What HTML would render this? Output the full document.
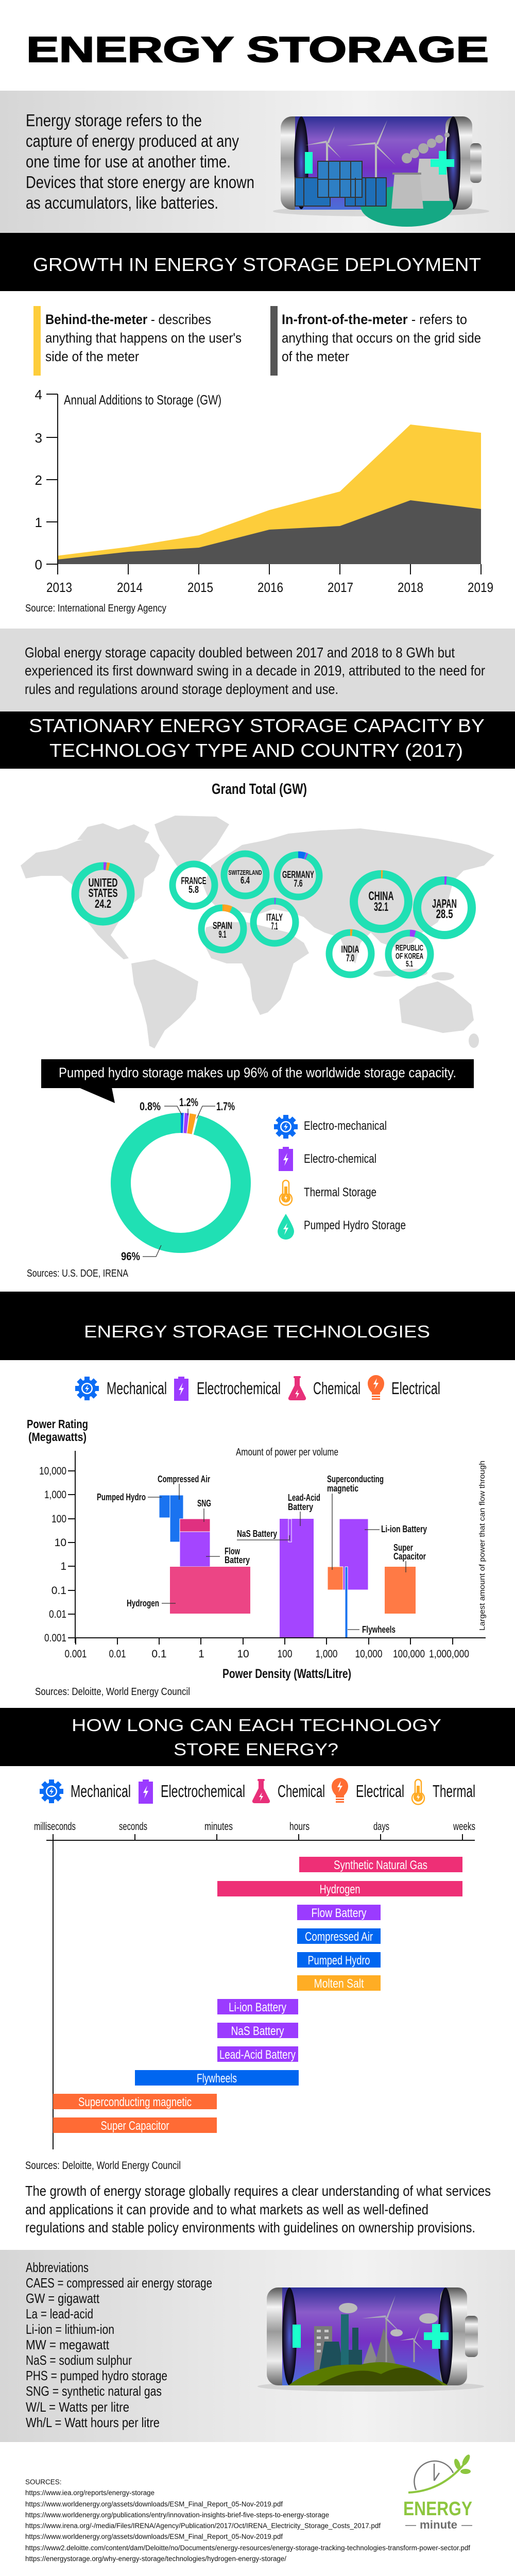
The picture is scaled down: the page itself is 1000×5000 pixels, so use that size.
<!DOCTYPE html>
<html><head><meta charset="utf-8"><style>
html,body{margin:0;padding:0;background:#fff;}
svg{display:block;}
text{font-family:"Liberation Sans Narrow","Liberation Sans",Arial,sans-serif;}
.w{font-family:"Liberation Sans",Arial,sans-serif;}
.b{font-weight:bold;}
</style></head><body>
<svg width="1000" height="5000" viewBox="0 0 1000 5000" xmlns="http://www.w3.org/2000/svg">
<defs>
<linearGradient id="band" x1="0" x2="1" y1="0" y2="0"><stop offset="0" stop-color="#d6d6d6"/><stop offset="0.7" stop-color="#f2f2f2"/><stop offset="1" stop-color="#e4e4e4"/></linearGradient>
<linearGradient id="silver" x1="0" x2="0" y1="0" y2="1"><stop offset="0" stop-color="#555"/><stop offset="0.2" stop-color="#f4f4f4"/><stop offset="0.45" stop-color="#9a9a9a"/><stop offset="0.75" stop-color="#eee"/><stop offset="1" stop-color="#666"/></linearGradient>
<linearGradient id="inside" x1="0" x2="0" y1="0" y2="1"><stop offset="0" stop-color="#2d2f95"/><stop offset="0.25" stop-color="#8a5cc9"/><stop offset="0.55" stop-color="#7630c4"/><stop offset="1" stop-color="#4a6fd8"/></linearGradient>
<radialGradient id="endcap"><stop offset="0" stop-color="#4a5ad0"/><stop offset="0.6" stop-color="#2a2250"/><stop offset="1" stop-color="#050510"/></radialGradient>
<g id="gear"><g fill="#0a6cf5"><circle r="17"/><rect x="-5" y="-23" width="10" height="8"/><rect x="-5" y="15" width="10" height="8"/><rect x="-23" y="-5" width="8" height="10"/><rect x="15" y="-5" width="8" height="10"/><rect x="-5" y="-23" width="10" height="8" transform="rotate(45)"/><rect x="-5" y="-23" width="10" height="8" transform="rotate(135)"/><rect x="-5" y="-23" width="10" height="8" transform="rotate(225)"/><rect x="-5" y="-23" width="10" height="8" transform="rotate(315)"/></g><circle r="11" fill="#fff"/><circle r="8.5" fill="#0a6cf5"/><path d="M2,-7 L-4,1 L0,1 L-2,7 L4,-1 L0,-1Z" fill="#fff"/></g>
<g id="batt"><rect x="-6" y="-24" width="12" height="5" fill="#9b3bff"/><rect x="-14" y="-20" width="28" height="43" fill="#9b3bff"/><path d="M3,-12 L-5,2 L0,2 L-3,13 L5,-2 L0,-2Z" fill="#fff"/></g>
<g id="flask"><rect x="-7" y="-24" width="14" height="4" rx="2" fill="#e8307a"/><path d="M-5,-21 L5,-21 L5,-6 L17,18 Q18,23 12,23 L-12,23 Q-18,23 -17,18 L-5,-6Z" fill="#e8307a"/><path d="M2,2 L-4,11 L0,11 L-2,19 L4,9 L0,9Z" fill="#fff"/></g>
<g id="bulb"><path d="M-16,-8 A16,16 0 1 1 16,-8 Q16,2 8,10 L8,14 L-8,14 L-8,10 Q-16,2 -16,-8Z" fill="#ff6d33"/><rect x="-8" y="16" width="16" height="3" fill="#ff6d33"/><rect x="-8" y="21" width="16" height="3" fill="#ff6d33"/><path d="M2,-18 L-5,-6 L0,-6 L-3,4 L5,-9 L0,-9Z" fill="#fff"/></g>
<g id="therm"><path d="M-6,-14 A6,6 0 0 1 6,-14 L6,6 A12,12 0 1 1 -6,6Z" fill="#fff" stroke="#ffab24" stroke-width="2.5"/><rect x="-3" y="-8" width="6" height="16" fill="#ffab24"/><circle cy="14" r="9" fill="#ffab24"/><path d="M1,8 L-3,15 L0,15 L-1,20 L3,13 L0,13Z" fill="#fff"/></g>
<g id="drop"><path d="M0,-24 Q16,2 16,10 A16,16 0 0 1 -16,10 Q-16,2 0,-24Z" fill="#20e0b4"/><path d="M3,-6 L-5,6 L0,6 L-3,17 L5,3 L0,3Z" fill="#fff"/></g>
</defs>

<!-- TITLE -->
<text x="500" y="120" text-anchor="middle" class="w b" font-size="70" textLength="898" lengthAdjust="spacingAndGlyphs" font-weight="900" stroke="#000" stroke-width="2">ENERGY STORAGE</text>

<!-- INTRO BAND -->
<rect x="0" y="176" width="1000" height="276" fill="url(#band)"/>
<g font-size="33" fill="#111">
<text x="50" y="245" textLength="342" lengthAdjust="spacingAndGlyphs">Energy storage refers to the</text>
<text x="50" y="285" textLength="414" lengthAdjust="spacingAndGlyphs">capture of energy produced at any</text>
<text x="50" y="325" textLength="398" lengthAdjust="spacingAndGlyphs">one time for use at another time.</text>
<text x="50" y="365" textLength="444" lengthAdjust="spacingAndGlyphs">Devices that store energy are known</text>
<text x="50" y="405" textLength="374" lengthAdjust="spacingAndGlyphs">as accumulators, like batteries.</text>
</g>
<!-- battery 1 -->
<ellipse cx="740" cy="410" rx="210" ry="10" fill="#bbb" opacity="0.5"/>
<rect x="545" y="226" width="50" height="181" rx="22" fill="url(#silver)"/>
<rect x="573" y="226" width="317" height="181" fill="url(#inside)"/>
<rect x="865" y="226" width="52" height="181" rx="18" fill="url(#silver)"/>
<rect x="913" y="278" width="22" height="77" rx="8" fill="url(#silver)"/>
<ellipse cx="585" cy="316" rx="14" ry="90" fill="url(#endcap)"/>
<ellipse cx="880" cy="316" rx="14" ry="90" fill="url(#endcap)"/>
<ellipse cx="790" cy="400" rx="90" ry="40" fill="#15a884"/>
<g stroke="#bbb" stroke-width="4" fill="none"><line x1="635" y1="277" x2="635" y2="340"/><line x1="730" y1="280" x2="730" y2="345"/></g>
<g fill="#bbb"><path d="M635,277 L650,245 L639,278Z"/><path d="M635,277 L593,282 L634,273Z"/><path d="M635,277 L662,307 L632,279Z"/><path d="M730,280 L752,233 L734,281Z"/><path d="M730,280 L673,283 L729,276Z"/><path d="M730,280 L768,320 L727,282Z"/></g>
<g fill="#aaa"><circle cx="790" cy="307" r="10"/><circle cx="805" cy="298" r="9"/><circle cx="822" cy="288" r="10"/><circle cx="838" cy="278" r="9"/><circle cx="853" cy="270" r="8"/><circle cx="868" cy="262" r="5"/></g>
<path d="M814,308 L866,308 L873,390 L806,390Z" fill="#c4c4c4"/><path d="M766,337 L815,337 L822,405 L760,405Z" fill="#bdbdbd"/><rect x="762" y="335" width="56" height="4" fill="#888"/>
<g stroke="#333" stroke-width="2"><rect x="573" y="345" width="68" height="55" fill="#1f6fb8"/><rect x="670" y="345" width="80" height="55" fill="#1f6fb8"/><rect x="617" y="313" width="86" height="70" fill="#2e7fc4"/>
<line x1="638" y1="313" x2="638" y2="383"/><line x1="660" y1="313" x2="660" y2="383"/><line x1="681" y1="313" x2="681" y2="383"/><line x1="617" y1="348" x2="703" y2="348"/><line x1="690" y1="345" x2="690" y2="400"/><line x1="710" y1="345" x2="710" y2="400"/><line x1="730" y1="345" x2="730" y2="400"/><line x1="590" y1="345" x2="590" y2="400"/></g>
<rect x="592" y="295" width="15" height="42" fill="#1bffcc"/>
<rect x="836" y="309" width="46" height="15" fill="#1bffcc"/><rect x="852" y="293" width="15" height="46" fill="#1bffcc"/>

<!-- HEADER 1 -->
<rect x="0" y="452" width="1000" height="113" fill="#000"/>
<text x="64" y="526" class="w" font-size="36" fill="#fff" textLength="870" lengthAdjust="spacingAndGlyphs">GROWTH IN ENERGY STORAGE DEPLOYMENT</text>

<!-- meters -->
<rect x="65" y="594" width="14" height="135" fill="#fdcd3b"/>
<rect x="525" y="594" width="14" height="135" fill="#555"/>
<g font-size="27" fill="#111">
<text x="88" y="629" textLength="322" lengthAdjust="spacingAndGlyphs"><tspan class="b">Behind-the-meter</tspan> - describes</text>
<text x="88" y="665" textLength="381" lengthAdjust="spacingAndGlyphs">anything that happens on the user's</text>
<text x="88" y="701" textLength="182" lengthAdjust="spacingAndGlyphs">side of the meter</text>
<text x="547" y="629" textLength="360" lengthAdjust="spacingAndGlyphs"><tspan class="b">In-front-of-the-meter</tspan> - refers to</text>
<text x="547" y="665" textLength="387" lengthAdjust="spacingAndGlyphs">anything that occurs on the grid side</text>
<text x="547" y="701" textLength="131" lengthAdjust="spacingAndGlyphs">of the meter</text>
</g>

<!-- area chart -->
<path d="M112,1078.6 L249,1061.6 L386,1039 L523,990 L660,954 L797,824 L934,840 L934,1095 L112,1095Z" fill="#fdcd3b"/>
<path d="M112,1086 L249,1071 L386,1063 L523,1028 L660,1021 L797,971 L934,988 L934,1095 L112,1095Z" fill="#525252"/>
<g stroke="#111" stroke-width="2"><line x1="112" y1="765" x2="112" y2="1115"/>
<line x1="90" y1="765" x2="112" y2="765"/><line x1="90" y1="849" x2="112" y2="849"/><line x1="90" y1="931" x2="112" y2="931"/><line x1="90" y1="1013" x2="112" y2="1013"/><line x1="90" y1="1095" x2="112" y2="1095"/>
<line x1="249" y1="1095" x2="249" y2="1115"/><line x1="386" y1="1095" x2="386" y2="1115"/><line x1="523" y1="1095" x2="523" y2="1115"/><line x1="660" y1="1095" x2="660" y2="1115"/><line x1="797" y1="1095" x2="797" y2="1115"/><line x1="934" y1="1095" x2="934" y2="1115"/></g>
<g font-size="26" fill="#111" text-anchor="end"><text x="82" y="775">4</text><text x="82" y="859">3</text><text x="82" y="941">2</text><text x="82" y="1023">1</text><text x="82" y="1105">0</text></g>
<g font-size="26" fill="#111" text-anchor="middle"><text x="115" y="1149" textLength="50" lengthAdjust="spacingAndGlyphs">2013</text><text x="252" y="1149" textLength="50" lengthAdjust="spacingAndGlyphs">2014</text><text x="389" y="1149" textLength="50" lengthAdjust="spacingAndGlyphs">2015</text><text x="525" y="1149" textLength="50" lengthAdjust="spacingAndGlyphs">2016</text><text x="661" y="1149" textLength="50" lengthAdjust="spacingAndGlyphs">2017</text><text x="797" y="1149" textLength="50" lengthAdjust="spacingAndGlyphs">2018</text><text x="933" y="1149" textLength="50" lengthAdjust="spacingAndGlyphs">2019</text></g>
<text x="124" y="785" font-size="26" fill="#111" textLength="306" lengthAdjust="spacingAndGlyphs">Annual Additions to Storage (GW)</text>
<text x="49" y="1187" font-size="20" fill="#111" textLength="274" lengthAdjust="spacingAndGlyphs">Source: International Energy Agency</text>

<rect x="0" y="1220" width="1000" height="161" fill="#dcdcdc"/>
<g font-size="28" fill="#111">
<text x="48" y="1276" textLength="835" lengthAdjust="spacingAndGlyphs">Global energy storage capacity doubled between 2017 and 2018 to 8 GWh but</text>
<text x="48" y="1311" textLength="894" lengthAdjust="spacingAndGlyphs">experienced its first downward swing in a decade in 2019, attributed to the need for</text>
<text x="48" y="1347" textLength="609" lengthAdjust="spacingAndGlyphs">rules and regulations around storage deployment and use.</text>
</g>

<!-- HEADER 2 -->
<rect x="0" y="1381" width="1000" height="111" fill="#000"/>
<text x="56" y="1421" class="w" font-size="36" fill="#fff" textLength="885" lengthAdjust="spacingAndGlyphs">STATIONARY ENERGY STORAGE CAPACITY BY</text>
<text x="96" y="1469" class="w" font-size="36" fill="#fff" textLength="803" lengthAdjust="spacingAndGlyphs">TECHNOLOGY TYPE AND COUNTRY (2017)</text>
<text x="411" y="1541" class="b" font-size="29" fill="#111" textLength="185" lengthAdjust="spacingAndGlyphs">Grand Total (GW)</text>

<!-- map -->
<g fill="#dcdcdc">
<path d="M40,1680 L70,1655 L110,1648 L150,1632 L200,1625 L250,1622 L290,1638 L310,1660 L300,1690 L280,1705 L275,1740 L250,1760 L230,1790 L215,1815 L235,1840 L250,1860 L240,1862 L215,1840 L190,1815 L170,1790 L160,1760 L150,1725 L120,1700 L80,1700 L50,1705Z"/>
<path d="M150,1630 L170,1605 L200,1598 L230,1610 L260,1600 L290,1615 L280,1635Z"/>
<path d="M300,1600 L340,1583 L420,1585 L445,1600 L420,1640 L380,1680 L350,1690 L330,1660 L310,1630Z"/>
<path d="M255,1870 L300,1862 L340,1880 L385,1905 L380,1940 L350,1975 L320,2000 L300,2035 L290,2030 L285,1990 L275,1950 L260,1910Z"/>
<path d="M395,1720 L410,1680 L440,1660 L470,1640 L520,1630 L560,1618 L620,1612 L700,1608 L780,1618 L850,1628 L910,1640 L960,1660 L940,1680 L900,1690 L880,1710 L870,1750 L850,1790 L820,1810 L800,1830 L770,1840 L740,1830 L720,1810 L700,1830 L690,1870 L675,1855 L660,1820 L630,1810 L610,1800 L590,1780 L560,1770 L530,1765 L500,1775 L470,1770 L440,1770 L420,1760 L405,1745Z"/>
<path d="M400,1800 L440,1790 L480,1790 L520,1800 L560,1810 L590,1830 L600,1850 L570,1870 L560,1900 L545,1940 L520,1965 L505,1970 L490,1940 L485,1900 L470,1870 L440,1870 L410,1860 L395,1830Z"/>
<path d="M775,1940 L810,1915 L850,1905 L880,1920 L915,1950 L920,1980 L900,2000 L860,2005 L820,1995 L780,1985Z"/>
<ellipse cx="750" cy="1890" rx="25" ry="6"/><ellipse cx="800" cy="1888" rx="30" ry="8"/><ellipse cx="860" cy="1895" rx="22" ry="8"/><ellipse cx="920" cy="2020" rx="10" ry="14"/>
</g>
<!-- rings -->
<g fill="none" stroke="#20e0b4">
<circle cx="200" cy="1735" r="54" stroke-width="15"/>
<circle cx="376" cy="1718" r="41" stroke-width="13"/>
<circle cx="476" cy="1698" r="41" stroke-width="13"/>
<circle cx="579" cy="1700" r="41" stroke-width="13"/>
<circle cx="432" cy="1803" r="41" stroke-width="13"/>
<circle cx="533" cy="1790" r="41" stroke-width="13"/>
<circle cx="740" cy="1750" r="53" stroke-width="16"/>
<circle cx="863" cy="1762" r="53" stroke-width="16"/>
<circle cx="680" cy="1851" r="41" stroke-width="13"/>
<circle cx="795" cy="1852" r="41" stroke-width="13"/>
</g>
<g fill="none">
<circle cx="200" cy="1735" r="54" stroke-width="15" stroke="#9b3bff" stroke-dasharray="5 400" stroke-dashoffset="-1" transform="rotate(-90 200 1735)"/>
<circle cx="200" cy="1735" r="54" stroke-width="15" stroke="#ffa21f" stroke-dasharray="5 400" stroke-dashoffset="-7" transform="rotate(-90 200 1735)"/>
<circle cx="579" cy="1700" r="41" stroke-width="13" stroke="#0a6cf5" stroke-dasharray="13 400" stroke-dashoffset="0" transform="rotate(-90 579 1700)"/>
<circle cx="579" cy="1700" r="41" stroke-width="13" stroke="#9b3bff" stroke-dasharray="3 400" stroke-dashoffset="-14" transform="rotate(-90 579 1700)"/>
<circle cx="432" cy="1803" r="41" stroke-width="13" stroke="#ffa21f" stroke-dasharray="17 400" stroke-dashoffset="0" transform="rotate(-90 432 1803)"/>
<circle cx="533" cy="1790" r="41" stroke-width="13" stroke="#9b3bff" stroke-dasharray="2 400" transform="rotate(-90 533 1790)"/>
<circle cx="740" cy="1750" r="53" stroke-width="16" stroke="#ffa21f" stroke-dasharray="3 400" transform="rotate(-90 740 1750)"/>
<circle cx="863" cy="1762" r="53" stroke-width="16" stroke="#9b3bff" stroke-dasharray="4 400" transform="rotate(-90 863 1762)"/>
<circle cx="680" cy="1851" r="41" stroke-width="13" stroke="#ffa21f" stroke-dasharray="4 400" transform="rotate(-90 680 1851)"/>
<circle cx="795" cy="1852" r="41" stroke-width="13" stroke="#9b3bff" stroke-dasharray="10 400" stroke-dashoffset="-1" transform="rotate(-90 795 1852)"/>
</g>
<g class="b" fill="#111" text-anchor="middle">
<text x="200" y="1721" font-size="23" textLength="57" lengthAdjust="spacingAndGlyphs">UNITED</text><text x="200" y="1741" font-size="23" textLength="57" lengthAdjust="spacingAndGlyphs">STATES</text><text x="200" y="1762" font-size="23" textLength="32" lengthAdjust="spacingAndGlyphs">24.2</text>
<text x="376" y="1716" font-size="19" textLength="49" lengthAdjust="spacingAndGlyphs">FRANCE</text><text x="376" y="1733" font-size="19" textLength="20" lengthAdjust="spacingAndGlyphs">5.8</text>
<text x="476" y="1698" font-size="13" textLength="65" lengthAdjust="spacingAndGlyphs">SWITZERLAND</text><text x="476" y="1715" font-size="19" textLength="18" lengthAdjust="spacingAndGlyphs">6.4</text>
<text x="579" y="1704" font-size="19" textLength="62" lengthAdjust="spacingAndGlyphs">GERMANY</text><text x="579" y="1721" font-size="19" textLength="17" lengthAdjust="spacingAndGlyphs">7.6</text>
<text x="432" y="1803" font-size="19" textLength="38" lengthAdjust="spacingAndGlyphs">SPAIN</text><text x="432" y="1820" font-size="19" textLength="15" lengthAdjust="spacingAndGlyphs">9.1</text>
<text x="533" y="1787" font-size="19" textLength="32" lengthAdjust="spacingAndGlyphs">ITALY</text><text x="533" y="1804" font-size="19" textLength="13" lengthAdjust="spacingAndGlyphs">7.1</text>
<text x="740" y="1747" font-size="24" textLength="49" lengthAdjust="spacingAndGlyphs">CHINA</text><text x="740" y="1768" font-size="24" textLength="28" lengthAdjust="spacingAndGlyphs">32.1</text>
<text x="863" y="1762" font-size="24" textLength="48" lengthAdjust="spacingAndGlyphs">JAPAN</text><text x="863" y="1782" font-size="24" textLength="33" lengthAdjust="spacingAndGlyphs">28.5</text>
<text x="680" y="1849" font-size="19" textLength="35" lengthAdjust="spacingAndGlyphs">INDIA</text><text x="680" y="1866" font-size="19" textLength="16" lengthAdjust="spacingAndGlyphs">7.0</text>
<text x="795" y="1845" font-size="16" textLength="54" lengthAdjust="spacingAndGlyphs">REPUBLIC</text><text x="795" y="1861" font-size="16" textLength="54" lengthAdjust="spacingAndGlyphs">OF KOREA</text><text x="795" y="1876" font-size="16" textLength="14" lengthAdjust="spacingAndGlyphs">5.1</text>
</g>

<!-- pill -->
<rect x="80" y="2056" width="840" height="56" fill="#000"/>
<path d="M153,2111 L217,2111 L223,2141Z" fill="#000"/>
<text x="114" y="2091" font-size="27" fill="#fff" textLength="772" lengthAdjust="spacingAndGlyphs">Pumped hydro storage makes up 96% of the worldwide storage capacity.</text>

<!-- donut -->
<circle cx="351" cy="2296" r="116.5" fill="none" stroke="#20e0b4" stroke-width="39"/>
<g fill="none" stroke-width="39" transform="rotate(-90 351 2296)">
<circle cx="351" cy="2296" r="116.5" stroke="#fff" stroke-dasharray="30 800"/>
<circle cx="351" cy="2296" r="116.5" stroke="#0a6cf5" stroke-dasharray="5 800" stroke-dashoffset="0"/>
<circle cx="351" cy="2296" r="116.5" stroke="#9b3bff" stroke-dasharray="7 800" stroke-dashoffset="-6.5"/>
<circle cx="351" cy="2296" r="116.5" stroke="#ffa21f" stroke-dasharray="11 800" stroke-dashoffset="-15"/>
</g>
<g stroke="#333" stroke-width="1.2" fill="none">
<path d="M319,2147 L344,2147 L353,2164"/><path d="M365,2152 L365,2165"/><path d="M418,2147 L393,2147 L382,2171"/><path d="M277,2439 L303,2439 L313,2417"/>
</g>
<g class="b" font-size="22" fill="#111"><text x="271" y="2155" textLength="41" lengthAdjust="spacingAndGlyphs">0.8%</text><text x="348" y="2147" textLength="37" lengthAdjust="spacingAndGlyphs">1.2%</text><text x="420" y="2155" textLength="36" lengthAdjust="spacingAndGlyphs">1.7%</text><text x="235" y="2446" textLength="37" lengthAdjust="spacingAndGlyphs">96%</text></g>
<use href="#gear" x="555" y="2187"/><use href="#batt" x="555" y="2250"/><use href="#therm" x="555" y="2311"/><use href="#drop" x="555" y="2380"/>
<g font-size="24" fill="#111">
<text x="590" y="2193" textLength="161" lengthAdjust="spacingAndGlyphs">Electro-mechanical</text>
<text x="590" y="2257" textLength="141" lengthAdjust="spacingAndGlyphs">Electro-chemical</text>
<text x="590" y="2322" textLength="141" lengthAdjust="spacingAndGlyphs">Thermal Storage</text>
<text x="590" y="2386" textLength="198" lengthAdjust="spacingAndGlyphs">Pumped Hydro Storage</text>
</g>
<text x="52" y="2478" font-size="20" fill="#111" textLength="197" lengthAdjust="spacingAndGlyphs">Sources: U.S. DOE, IRENA</text>

<!-- HEADER 3 -->
<rect x="0" y="2507" width="1000" height="133" fill="#000"/>
<text x="163" y="2596" class="w" font-size="33" fill="#fff" textLength="672" lengthAdjust="spacingAndGlyphs">ENERGY STORAGE TECHNOLOGIES</text>
<use href="#gear" x="169" y="2695"/><use href="#batt" x="352" y="2696"/><use href="#flask" x="577" y="2695"/><use href="#bulb" x="730" y="2693"/>
<g font-size="33" fill="#111">
<text x="207" y="2706" textLength="117" lengthAdjust="spacingAndGlyphs">Mechanical</text>
<text x="382" y="2706" textLength="163" lengthAdjust="spacingAndGlyphs">Electrochemical</text>
<text x="608" y="2706" textLength="92" lengthAdjust="spacingAndGlyphs">Chemical</text>
<text x="760" y="2706" textLength="95" lengthAdjust="spacingAndGlyphs">Electrical</text>
</g>
<g class="b" font-size="23" fill="#111"><text x="52" y="2772" textLength="119" lengthAdjust="spacingAndGlyphs">Power Rating</text><text x="55" y="2797" textLength="113" lengthAdjust="spacingAndGlyphs">(Megawatts)</text></g>
<text x="458" y="2825" font-size="20" fill="#111" textLength="199" lengthAdjust="spacingAndGlyphs">Amount of power per volume</text>

<!-- tech chart bars -->
<rect x="309" y="2902" width="21" height="44" fill="#1a73f0" stroke="#fff" stroke-width="1"/>
<rect x="330" y="2902" width="26" height="91" fill="#1a73f0" stroke="#fff" stroke-width="1"/>
<rect x="349" y="2973" width="59" height="68" fill="#a445ff" stroke="#fff" stroke-width="1"/>
<rect x="349" y="2948" width="59" height="25" fill="#e03080" stroke="#fff" stroke-width="1"/>
<rect x="330" y="3041" width="156" height="91" fill="#ec4585"/>
<rect x="543" y="2948" width="66" height="231" fill="#a445ff"/>
<rect x="560" y="2948" width="6" height="45" fill="#a445ff" stroke="#fff" stroke-width="1"/>
<rect x="659" y="2948" width="56" height="138" fill="#a445ff" stroke="#fff" stroke-width="1"/>
<rect x="636" y="3041" width="30" height="45" fill="#ff7a45" stroke="#fff" stroke-width="1"/>
<rect x="670" y="3041" width="5" height="138" fill="#1a73f0" stroke="#fff" stroke-width="1"/>
<rect x="747" y="3041" width="60" height="91" fill="#ff7a45"/>
<!-- axes -->
<g stroke="#111" stroke-width="2"><line x1="146" y1="2816" x2="146" y2="3189"/><line x1="146" y1="3179" x2="943" y2="3179"/>
<line x1="132" y1="2855" x2="146" y2="2855"/><line x1="132" y1="2901" x2="146" y2="2901"/><line x1="132" y1="2948" x2="146" y2="2948"/><line x1="132" y1="2994" x2="146" y2="2994"/><line x1="132" y1="3040" x2="146" y2="3040"/><line x1="132" y1="3087" x2="146" y2="3087"/><line x1="132" y1="3133" x2="146" y2="3133"/><line x1="132" y1="3179" x2="146" y2="3179"/>
<line x1="147" y1="3179" x2="147" y2="3192"/><line x1="228" y1="3179" x2="228" y2="3192"/><line x1="309" y1="3179" x2="309" y2="3192"/><line x1="390" y1="3179" x2="390" y2="3192"/><line x1="472" y1="3179" x2="472" y2="3192"/><line x1="553" y1="3179" x2="553" y2="3192"/><line x1="634" y1="3179" x2="634" y2="3192"/><line x1="716" y1="3179" x2="716" y2="3192"/><line x1="797" y1="3179" x2="797" y2="3192"/><line x1="879" y1="3179" x2="879" y2="3192"/></g>
<g font-size="21" fill="#111" text-anchor="end"><text x="129" y="2862" textLength="53" lengthAdjust="spacingAndGlyphs">10,000</text><text x="129" y="2908" textLength="43" lengthAdjust="spacingAndGlyphs">1,000</text><text x="129" y="2955" textLength="29" lengthAdjust="spacingAndGlyphs">100</text><text x="129" y="3001">10</text><text x="129" y="3047">1</text><text x="129" y="3094">0.1</text><text x="129" y="3140" textLength="34" lengthAdjust="spacingAndGlyphs">0.01</text><text x="129" y="3186" textLength="43" lengthAdjust="spacingAndGlyphs">0.001</text></g>
<g font-size="21" fill="#111" text-anchor="middle"><text x="147" y="3217" textLength="43" lengthAdjust="spacingAndGlyphs">0.001</text><text x="228" y="3217" textLength="33" lengthAdjust="spacingAndGlyphs">0.01</text><text x="309" y="3217">0.1</text><text x="391" y="3217">1</text><text x="472" y="3217">10</text><text x="553" y="3217" textLength="29" lengthAdjust="spacingAndGlyphs">100</text><text x="634" y="3217" textLength="43" lengthAdjust="spacingAndGlyphs">1,000</text><text x="716" y="3217" textLength="53" lengthAdjust="spacingAndGlyphs">10,000</text><text x="794" y="3217" textLength="62" lengthAdjust="spacingAndGlyphs">100,000</text><text x="872" y="3217" textLength="78" lengthAdjust="spacingAndGlyphs">1,000,000</text></g>
<!-- leaders -->
<g stroke="#333" stroke-width="1.3" fill="none">
<path d="M348,2880 L348,2911"/><path d="M287,2906 L314,2906"/><path d="M396,2928 L396,2954"/><path d="M400,3021 L427,3021"/><path d="M583,2934 L583,2962"/><path d="M645,2899 L645,3047"/><path d="M460,2989 L562,2989 L562,2980"/><path d="M708,2969 L737,2969"/><path d="M788,3030 L788,3052"/><path d="M314,3112 L341,3112"/><path d="M675,3163 L698,3163"/>
</g>
<g class="b" font-size="18" fill="#111">
<text x="306" y="2877" textLength="102" lengthAdjust="spacingAndGlyphs">Compressed Air</text>
<text x="188" y="2912" textLength="95" lengthAdjust="spacingAndGlyphs">Pumped Hydro</text>
<text x="383" y="2924" textLength="27" lengthAdjust="spacingAndGlyphs">SNG</text>
<text x="436" y="3017" textLength="30" lengthAdjust="spacingAndGlyphs">Flow</text><text x="436" y="3034" textLength="49" lengthAdjust="spacingAndGlyphs">Battery</text>
<text x="559" y="2913" textLength="63" lengthAdjust="spacingAndGlyphs">Lead-Acid</text><text x="559" y="2931" textLength="49" lengthAdjust="spacingAndGlyphs">Battery</text>
<text x="635" y="2877" textLength="110" lengthAdjust="spacingAndGlyphs">Superconducting</text><text x="635" y="2895" textLength="61" lengthAdjust="spacingAndGlyphs">magnetic</text>
<text x="460" y="2983" textLength="78" lengthAdjust="spacingAndGlyphs">NaS Battery</text>
<text x="740" y="2974" textLength="89" lengthAdjust="spacingAndGlyphs">Li-ion Battery</text>
<text x="764" y="3010" textLength="38" lengthAdjust="spacingAndGlyphs">Super</text><text x="764" y="3027" textLength="63" lengthAdjust="spacingAndGlyphs">Capacitor</text>
<text x="246" y="3118" textLength="63" lengthAdjust="spacingAndGlyphs">Hydrogen</text>
<text x="703" y="3169" textLength="65" lengthAdjust="spacingAndGlyphs">Flywheels</text>
</g>
<text transform="translate(941,3165) rotate(-90)" class="w" font-size="15" fill="#111" textLength="330" lengthAdjust="spacingAndGlyphs">Largest amount of power that can flow through</text>
<text x="432" y="3257" class="b" font-size="25" fill="#111" textLength="250" lengthAdjust="spacingAndGlyphs">Power Density (Watts/Litre)</text>
<text x="68" y="3290" font-size="20" fill="#111" textLength="301" lengthAdjust="spacingAndGlyphs">Sources: Deloitte, World Energy Council</text>

<!-- HEADER 4 -->
<rect x="0" y="3315" width="1000" height="113" fill="#000"/>
<text x="139" y="3360" class="w" font-size="33" fill="#fff" textLength="718" lengthAdjust="spacingAndGlyphs">HOW LONG CAN EACH TECHNOLOGY</text>
<text x="337" y="3407" class="w" font-size="33" fill="#fff" textLength="320" lengthAdjust="spacingAndGlyphs">STORE ENERGY?</text>
<use href="#gear" x="100" y="3477"/><use href="#batt" x="283" y="3478"/><use href="#flask" x="507" y="3477"/><use href="#bulb" x="660" y="3475"/><use href="#therm" x="812" y="3474"/>
<g font-size="33" fill="#111">
<text x="137" y="3488" textLength="117" lengthAdjust="spacingAndGlyphs">Mechanical</text>
<text x="312" y="3488" textLength="164" lengthAdjust="spacingAndGlyphs">Electrochemical</text>
<text x="539" y="3488" textLength="92" lengthAdjust="spacingAndGlyphs">Chemical</text>
<text x="691" y="3488" textLength="94" lengthAdjust="spacingAndGlyphs">Electrical</text>
<text x="840" y="3488" textLength="83" lengthAdjust="spacingAndGlyphs">Thermal</text>
</g>
<g font-size="21" fill="#111">
<text x="66" y="3552" textLength="81" lengthAdjust="spacingAndGlyphs">milliseconds</text>
<text x="231" y="3552" textLength="55" lengthAdjust="spacingAndGlyphs">seconds</text>
<text x="397" y="3552" textLength="55" lengthAdjust="spacingAndGlyphs">minutes</text>
<text x="562" y="3552" textLength="39" lengthAdjust="spacingAndGlyphs">hours</text>
<text x="725" y="3552" textLength="31" lengthAdjust="spacingAndGlyphs">days</text>
<text x="880" y="3552" textLength="43" lengthAdjust="spacingAndGlyphs">weeks</text>
</g>
<g stroke="#111" stroke-width="2"><line x1="90" y1="3572" x2="922" y2="3572"/><line x1="103" y1="3560" x2="103" y2="4172"/>
<line x1="262" y1="3560" x2="262" y2="3572"/><line x1="421" y1="3560" x2="421" y2="3572"/><line x1="580" y1="3560" x2="580" y2="3572"/><line x1="739" y1="3560" x2="739" y2="3572"/><line x1="898" y1="3560" x2="898" y2="3572"/></g>
<g>
<rect x="581" y="3604" width="317" height="30" fill="#ee2f76"/>
<rect x="422" y="3651" width="476" height="30" fill="#ee2f76"/>
<rect x="577" y="3697" width="162" height="30" fill="#9b3bff"/>
<rect x="577" y="3743" width="162" height="30" fill="#0066f0"/>
<rect x="577" y="3789" width="162" height="30" fill="#0066f0"/>
<rect x="577" y="3834" width="162" height="30" fill="#ffad24"/>
<rect x="422" y="3880" width="157" height="30" fill="#9b3bff"/>
<rect x="422" y="3926" width="157" height="30" fill="#9b3bff"/>
<rect x="422" y="3972" width="157" height="30" fill="#9b3bff"/>
<rect x="262" y="4018" width="318" height="30" fill="#0066f0"/>
<rect x="103" y="4064" width="318" height="30" fill="#ff6b35"/>
<rect x="103" y="4110" width="318" height="30" fill="#ff6b35"/>
</g>
<g font-size="24" fill="#fff" text-anchor="middle">
<text x="739" y="3628" textLength="182" lengthAdjust="spacingAndGlyphs">Synthetic Natural Gas</text>
<text x="660" y="3675" textLength="79" lengthAdjust="spacingAndGlyphs">Hydrogen</text>
<text x="658" y="3721" textLength="107" lengthAdjust="spacingAndGlyphs">Flow Battery</text>
<text x="658" y="3767" textLength="132" lengthAdjust="spacingAndGlyphs">Compressed Air</text>
<text x="658" y="3813" textLength="121" lengthAdjust="spacingAndGlyphs">Pumped Hydro</text>
<text x="658" y="3858" textLength="97" lengthAdjust="spacingAndGlyphs">Molten Salt</text>
<text x="500" y="3904" textLength="112" lengthAdjust="spacingAndGlyphs">Li-ion Battery</text>
<text x="500" y="3950" textLength="103" lengthAdjust="spacingAndGlyphs">NaS Battery</text>
<text x="500" y="3996" textLength="148" lengthAdjust="spacingAndGlyphs">Lead-Acid Battery</text>
<text x="421" y="4042" textLength="78" lengthAdjust="spacingAndGlyphs">Flywheels</text>
<text x="262" y="4088" textLength="220" lengthAdjust="spacingAndGlyphs">Superconducting magnetic</text>
<text x="262" y="4134" textLength="133" lengthAdjust="spacingAndGlyphs">Super Capacitor</text>
</g>
<text x="49" y="4210" font-size="21" fill="#111" textLength="302" lengthAdjust="spacingAndGlyphs">Sources: Deloitte, World Energy Council</text>
<g font-size="28" fill="#111">
<text x="49" y="4262" textLength="904" lengthAdjust="spacingAndGlyphs">The growth of energy storage globally requires a clear understanding of what services</text>
<text x="49" y="4298" textLength="783" lengthAdjust="spacingAndGlyphs">and applications it can provide and to what markets as well as well-defined</text>
<text x="49" y="4333" textLength="874" lengthAdjust="spacingAndGlyphs">regulations and stable policy environments with guidelines on ownership provisions.</text>
</g>

<!-- abbreviations band -->
<rect x="0" y="4367" width="1000" height="373" fill="url(#band)"/>
<g font-size="26" fill="#111">
<text x="50" y="4410" textLength="122" lengthAdjust="spacingAndGlyphs">Abbreviations</text>
<text x="50" y="4440" textLength="362" lengthAdjust="spacingAndGlyphs">CAES = compressed air energy storage</text>
<text x="50" y="4470" textLength="143" lengthAdjust="spacingAndGlyphs">GW = gigawatt</text>
<text x="50" y="4500" textLength="131" lengthAdjust="spacingAndGlyphs">La = lead-acid</text>
<text x="50" y="4530" textLength="172" lengthAdjust="spacingAndGlyphs">Li-ion = lithium-ion</text>
<text x="50" y="4560" textLength="162" lengthAdjust="spacingAndGlyphs">MW = megawatt</text>
<text x="50" y="4590" textLength="206" lengthAdjust="spacingAndGlyphs">NaS = sodium sulphur</text>
<text x="50" y="4620" textLength="275" lengthAdjust="spacingAndGlyphs">PHS = pumped hydro storage</text>
<text x="50" y="4650" textLength="264" lengthAdjust="spacingAndGlyphs">SNG = synthetic natural gas</text>
<text x="50" y="4681" textLength="201" lengthAdjust="spacingAndGlyphs">W/L = Watts per litre</text>
<text x="50" y="4711" textLength="260" lengthAdjust="spacingAndGlyphs">Wh/L = Watt hours per litre</text>
</g>
<!-- battery 2 -->
<ellipse cx="720" cy="4632" rx="220" ry="10" fill="#bbb" opacity="0.5"/>
<rect x="518" y="4440" width="52" height="190" rx="22" fill="url(#silver)"/>
<rect x="548" y="4440" width="330" height="190" fill="url(#inside)"/>
<rect x="855" y="4440" width="52" height="190" rx="18" fill="url(#silver)"/>
<rect x="903" y="4495" width="25" height="80" rx="8" fill="url(#silver)"/>
<ellipse cx="562" cy="4535" rx="14" ry="95" fill="url(#endcap)"/>
<ellipse cx="865" cy="4535" rx="14" ry="95" fill="url(#endcap)"/>
<g fill="#bbb"><ellipse cx="676" cy="4480" rx="18" ry="10"/><ellipse cx="832" cy="4500" rx="18" ry="10"/><ellipse cx="770" cy="4528" rx="12" ry="7"/></g>
<rect x="610" y="4515" width="35" height="85" fill="#7a7a7a"/>
<g fill="#c8c8c8"><rect x="615" y="4522" width="8" height="5"/><rect x="630" y="4522" width="8" height="5"/><rect x="615" y="4535" width="8" height="5"/><rect x="630" y="4535" width="8" height="5"/><rect x="615" y="4548" width="8" height="5"/><rect x="615" y="4561" width="8" height="5"/></g>
<path d="M630,4545 L658,4545 L668,4600 L620,4600Z" fill="#1d4f5a"/>
<rect x="662" y="4492" width="15" height="110" fill="#1f6a72"/>
<rect x="684" y="4518" width="12" height="45" fill="#1d4f5a"/><rect x="677" y="4561" width="26" height="40" fill="#1d4f5a"/>
<path d="M705,4588 L720,4545 L735,4588Z" fill="#888"/><path d="M728,4588 L745,4518 L768,4588Z" fill="#777"/>
<g stroke="#999" stroke-width="3"><line x1="750" y1="4498" x2="750" y2="4585"/><line x1="804" y1="4541" x2="804" y2="4585"/></g>
<g fill="#aab"><path d="M750,4498 L768,4455 L753,4500Z"/><path d="M750,4498 L703,4500 L749,4494Z"/><path d="M750,4498 L780,4530 L747,4500Z"/><path d="M804,4541 L815,4516 L806,4542Z"/><path d="M804,4541 L776,4543 L803,4538Z"/><path d="M804,4541 L822,4562 L802,4543Z"/></g>
<path d="M560,4630 Q620,4585 700,4590 Q770,4570 870,4630Z" fill="#5a7a00"/>
<path d="M615,4630 Q690,4588 740,4608 Q800,4575 860,4630Z" fill="#3d4d00"/>
<rect x="568" y="4512" width="16" height="45" fill="#1bffcc"/>
<rect x="823" y="4527" width="48" height="15" fill="#1bffcc"/><rect x="839" y="4511" width="16" height="48" fill="#1bffcc"/>

<!-- sources -->
<g class="w" font-size="13.5" fill="#111">
<text x="49" y="4822">SOURCES:</text>
<text x="49" y="4843" textLength="251" lengthAdjust="spacingAndGlyphs">https://www.iea.org/reports/energy-storage</text>
<text x="49" y="4865" textLength="500" lengthAdjust="spacingAndGlyphs">https://www.worldenergy.org/assets/downloads/ESM_Final_Report_05-Nov-2019.pdf</text>
<text x="49" y="4886" textLength="590" lengthAdjust="spacingAndGlyphs">https://www.worldenergy.org/publications/entry/innovation-insights-brief-five-steps-to-energy-storage</text>
<text x="49" y="4907" textLength="690" lengthAdjust="spacingAndGlyphs">https://www.irena.org/-/media/Files/IRENA/Agency/Publication/2017/Oct/IRENA_Electricity_Storage_Costs_2017.pdf</text>
<text x="49" y="4928" textLength="500" lengthAdjust="spacingAndGlyphs">https://www.worldenergy.org/assets/downloads/ESM_Final_Report_05-Nov-2019.pdf</text>
<text x="49" y="4950" textLength="864" lengthAdjust="spacingAndGlyphs">https://www2.deloitte.com/content/dam/Deloitte/no/Documents/energy-resources/energy-storage-tracking-technologies-transform-power-sector.pdf</text>
<text x="49" y="4971" textLength="507" lengthAdjust="spacingAndGlyphs">https://energystorage.org/why-energy-storage/technologies/hydrogen-energy-storage/</text>
</g>
<!-- logo -->
<path d="M808,4833 A37,37 0 1 1 880,4800" fill="none" stroke="#777" stroke-width="2.5"/>
<line x1="843" y1="4782" x2="843" y2="4815" stroke="#777" stroke-width="2.5"/><line x1="843" y1="4815" x2="853" y2="4800" stroke="#777" stroke-width="2.5"/>
<path d="M793,4838 Q860,4835 905,4778" fill="none" stroke="#8dc63f" stroke-width="4"/>
<g fill="#8dc63f"><ellipse cx="888" cy="4783" rx="5" ry="11" transform="rotate(-20 888 4783)"/><ellipse cx="905" cy="4775" rx="5" ry="12" transform="rotate(30 905 4775)"/><ellipse cx="904" cy="4797" rx="10" ry="5"/></g>
<text x="783" y="4882" class="b" font-size="38" fill="#8dc63f" textLength="134" lengthAdjust="spacingAndGlyphs">ENERGY</text>
<text x="815" y="4908" class="w b" font-size="22" fill="#6d6d6d" textLength="73" lengthAdjust="spacingAndGlyphs">minute</text>
<g stroke="#6d6d6d" stroke-width="1.5"><line x1="787" y1="4902" x2="808" y2="4902"/><line x1="896" y1="4902" x2="917" y2="4902"/></g>
</svg>
</body></html>
